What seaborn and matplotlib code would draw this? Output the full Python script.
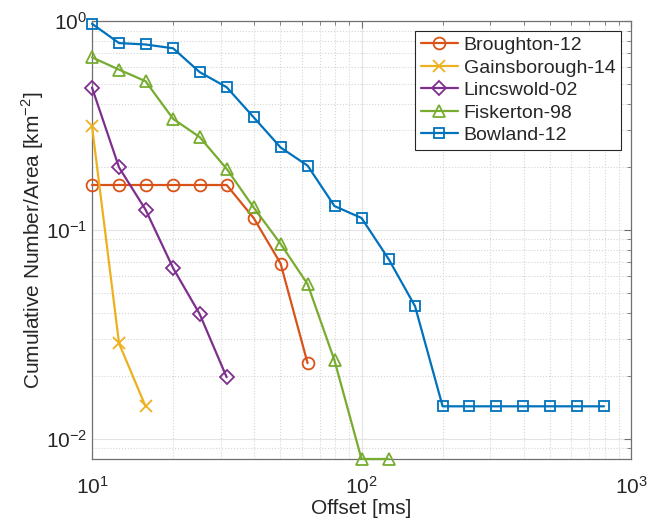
import numpy as np
import pandas as pd
import matplotlib
matplotlib.use("Agg")
import matplotlib.pyplot as plt
import seaborn as sns
from matplotlib.ticker import LogLocator, NullFormatter

sns.set_style("white")
plt.rcParams['font.family'] = ['Liberation Sans', 'DejaVu Sans']

# ---- data ----
broughton_x = [10.0, 12.6, 15.8, 20.0, 25.1, 31.6, 39.8, 50.1, 63.1]
broughton_y = [0.164, 0.164, 0.164, 0.164, 0.164, 0.164, 0.114, 0.069, 0.023]

gains_x = [10.0, 12.6, 15.8]
gains_y = [0.314, 0.0286, 0.0143]

lincs_x = [10.0, 12.6, 15.8, 20.0, 25.1, 31.6]
lincs_y = [0.48, 0.199, 0.125, 0.0656, 0.0395, 0.0197]

fisk_x = [10.0, 12.6, 15.8, 20.0, 25.1, 31.6, 39.8, 50.1, 63.1, 79.4, 100.0, 126.0]
fisk_y = [0.67, 0.585, 0.515, 0.34, 0.278, 0.196, 0.128, 0.0857, 0.055, 0.0237, 0.008, 0.008]

bowl_x = [10.0, 12.6, 15.8, 20.0, 25.1, 31.6, 39.8, 50.1, 63.1, 79.4, 100.0, 126.0,
          158.0, 200.0, 251.0, 316.0, 398.0, 501.0, 631.0, 794.0]
bowl_y = [0.97, 0.784, 0.772, 0.74, 0.569, 0.482, 0.346, 0.248, 0.203, 0.130, 0.114,
          0.0726, 0.0431, 0.0143, 0.0143, 0.0143, 0.0143, 0.0143, 0.0143, 0.0143]

names = ["Broughton-12", "Gainsborough-14", "Lincswold-02", "Fiskerton-98", "Bowland-12"]
xs = [broughton_x, gains_x, lincs_x, fisk_x, bowl_x]
ys = [broughton_y, gains_y, lincs_y, fisk_y, bowl_y]
colors = ["#D95319", "#EDB120", "#7E2F8E", "#77AC30", "#0072BD"]
markers = ["o", "x", "D", "^", "s"]
msizes = [8.5, 8, 7, 8.5, 7.5]

fig = plt.figure(figsize=(6.49, 5.26), dpi=100)
ax = fig.add_axes([92/649, 1-459/526, (631-92)/649, (459-21)/526])

for n, x, y, c, m, ms in zip(names, xs, ys, colors, markers, msizes):
    df = pd.DataFrame({"x": x, "y": y})
    sns.lineplot(data=df, x="x", y="y", ax=ax, color=c, marker=m, label=n,
                 markersize=ms, markerfacecolor="none", markeredgecolor=c,
                 markeredgewidth=1.3, linewidth=1.6, estimator=None, sort=False,
                 clip_on=False, zorder=3)

ax.set_xscale("log")
ax.set_yscale("log")
ax.set_xlim(10, 1000)
ax.set_ylim(0.008, 1)

ax.xaxis.set_major_locator(LogLocator(base=10, numticks=10))
ax.xaxis.set_minor_locator(LogLocator(base=10, subs=np.arange(2, 10), numticks=20))
ax.yaxis.set_major_locator(LogLocator(base=10, numticks=10))
ax.yaxis.set_minor_locator(LogLocator(base=10, subs=np.arange(2, 10), numticks=20))
ax.xaxis.set_minor_formatter(NullFormatter())
ax.yaxis.set_minor_formatter(NullFormatter())

ax.grid(True, which="major", color="#e3e3e3", linestyle="-", linewidth=0.8)
ax.grid(True, which="minor", color="#d5d5d5", linestyle=":", linewidth=0.8)
ax.set_axisbelow(True)

for s in ax.spines.values():
    s.set_color("#707070")
    s.set_linewidth(0.9)
ax.tick_params(which="both", direction="in", top=True, right=True, colors="#707070",
               labelcolor="#262626", labelsize=15)
ax.tick_params(which="major", length=5, width=0.8)
ax.tick_params(which="minor", length=3, width=0.6)
ax.tick_params(axis="x", pad=12)

ax.set_xlabel("Offset [ms]", fontsize=15, color="#262626", labelpad=1)
ax.set_ylabel(r"Cumulative Number/Area [km$^{\mathdefault{-2}}$]", fontsize=15,
              color="#262626", labelpad=0)

leg = ax.legend(loc="upper right", fontsize=14, frameon=True, fancybox=False,
                edgecolor="#262626", framealpha=1, borderpad=0.3, labelspacing=0.25,
                handlelength=1.9, handletextpad=0.3, borderaxespad=0.5)
leg.get_frame().set_linewidth(0.8)
leg.set_zorder(5)

fig.savefig("out.png", dpi=100)
